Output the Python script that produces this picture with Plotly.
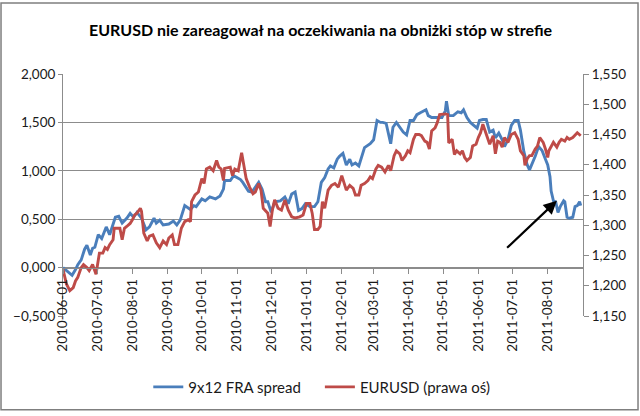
import plotly.graph_objects as go

title_text = "EURUSD nie zareagował na oczekiwania na obniżki stóp w strefie"
fra_name = "9x12 FRA spread"
eur_name = "EURUSD (prawa oś)"

fra_dates = [
    "2010-06-01","2010-06-09","2010-06-12","2010-06-14","2010-06-17","2010-06-20","2010-06-22","2010-06-25",
    "2010-06-27","2010-06-29","2010-07-02","2010-07-05","2010-07-09","2010-07-12","2010-07-17","2010-07-20",
    "2010-07-23","2010-07-27","2010-07-30","2010-08-02","2010-08-05","2010-08-09","2010-08-13","2010-08-16",
    "2010-08-20","2010-08-22","2010-08-25","2010-08-28","2010-09-02","2010-09-06","2010-09-09","2010-09-12",
    "2010-09-16","2010-09-21","2010-09-24","2010-09-26","2010-10-01","2010-10-04","2010-10-08","2010-10-13",
    "2010-10-17","2010-10-20","2010-10-21","2010-10-26","2010-10-29","2010-11-01","2010-11-04","2010-11-06",
    "2010-11-11","2010-11-14","2010-11-17","2010-11-20","2010-11-23","2010-11-26","2010-11-28","2010-12-01",
    "2010-12-04","2010-12-09","2010-12-13","2010-12-16","2010-12-19","2010-12-22","2010-12-25","2010-12-28",
    "2010-12-31","2011-01-04","2011-01-08","2011-01-11","2011-01-14","2011-01-17","2011-01-20","2011-01-22",
    "2011-01-25","2011-01-28","2011-01-30","2011-02-02","2011-02-05","2011-02-08","2011-02-10","2011-02-13",
    "2011-02-16","2011-02-19","2011-02-21","2011-02-26","2011-03-01","2011-03-04","2011-03-07","2011-03-09",
    "2011-03-12","2011-03-16","2011-03-18","2011-03-21","2011-03-24","2011-03-27","2011-03-30","2011-04-02",
    "2011-04-05","2011-04-08","2011-04-11","2011-04-14","2011-04-16","2011-04-18","2011-04-21","2011-04-25",
    "2011-04-30","2011-05-03","2011-05-04","2011-05-06","2011-05-10","2011-05-11","2011-05-14","2011-05-17",
    "2011-05-19","2011-05-22","2011-05-25","2011-05-28","2011-05-31","2011-06-02","2011-06-05","2011-06-08",
    "2011-06-11","2011-06-14","2011-06-16","2011-06-19","2011-06-22","2011-06-24","2011-06-27","2011-06-30",
    "2011-07-03","2011-07-06","2011-07-08","2011-07-11","2011-07-14","2011-07-16","2011-07-18","2011-07-21",
    "2011-07-24","2011-07-27","2011-07-30","2011-08-01","2011-08-03","2011-08-04","2011-08-06","2011-08-08",
    "2011-08-10","2011-08-12","2011-08-15","2011-08-16","2011-08-18","2011-08-20","2011-08-23","2011-08-25",
    "2011-08-27","2011-08-29","2011-08-30",
]
fra_values = [
    0.00,-0.08,-0.02,0.03,0.08,0.19,0.23,0.13,
    0.20,0.21,0.34,0.30,0.42,0.34,0.52,0.53,
    0.46,0.51,0.56,0.52,0.57,0.51,0.39,0.42,
    0.51,0.46,0.49,0.44,0.45,0.48,0.44,0.49,
    0.64,0.60,0.64,0.63,0.71,0.69,0.73,0.71,
    0.74,0.81,0.90,0.90,0.95,0.93,0.91,0.88,
    0.79,0.78,0.83,0.88,0.81,0.68,0.68,0.57,
    0.68,0.69,0.73,0.66,0.76,0.78,0.59,0.61,
    0.66,0.63,0.63,0.68,0.88,0.93,1.02,1.05,
    1.03,1.12,1.15,1.18,1.06,1.12,1.06,1.08,
    1.05,1.18,1.24,1.28,1.32,1.52,1.50,1.50,
    1.49,1.28,1.45,1.50,1.45,1.40,1.37,1.52,
    1.52,1.58,1.60,1.62,1.63,1.57,1.55,1.55,
    1.55,1.62,1.72,1.57,1.57,1.58,1.61,1.60,
    1.63,1.55,1.50,1.47,1.44,1.52,1.53,1.53,
    1.40,1.42,1.34,1.39,1.32,1.25,1.32,1.47,
    1.52,1.52,1.42,1.20,1.06,1.01,1.06,1.15,
    1.25,1.21,1.12,1.06,0.94,0.79,0.69,0.68,
    0.57,0.63,0.69,0.68,0.52,0.51,0.52,0.63,
    0.64,0.68,0.64,
]

eur_dates = [
    "2010-06-01","2010-06-04","2010-06-07","2010-06-10","2010-06-12","2010-06-14","2010-06-17","2010-06-19",
    "2010-06-22","2010-06-24","2010-06-27","2010-06-30","2010-07-03","2010-07-06","2010-07-08","2010-07-10",
    "2010-07-12","2010-07-15","2010-07-16","2010-07-18","2010-07-21","2010-07-23","2010-07-25","2010-07-27",
    "2010-07-30","2010-08-01","2010-08-03","2010-08-05","2010-08-08","2010-08-09","2010-08-11","2010-08-14",
    "2010-08-16","2010-08-19","2010-08-22","2010-08-25","2010-08-28","2010-08-31","2010-09-02","2010-09-05",
    "2010-09-07","2010-09-10","2010-09-13","2010-09-16","2010-09-19","2010-09-21","2010-09-22","2010-09-25",
    "2010-09-28","2010-10-01","2010-10-03","2010-10-05","2010-10-08","2010-10-11","2010-10-14","2010-10-16",
    "2010-10-18","2010-10-20","2010-10-21","2010-10-26","2010-10-28","2010-10-30","2010-11-02","2010-11-05",
    "2010-11-07","2010-11-09","2010-11-12","2010-11-15","2010-11-17","2010-11-20","2010-11-22","2010-11-24",
    "2010-11-28","2010-11-30","2010-12-02","2010-12-04","2010-12-07","2010-12-10","2010-12-13","2010-12-16",
    "2010-12-19","2010-12-22","2010-12-26","2010-12-29","2011-01-01","2011-01-04","2011-01-06","2011-01-08",
    "2011-01-11","2011-01-13","2011-01-15","2011-01-17","2011-01-20","2011-01-23","2011-01-26","2011-01-29",
    "2011-02-01","2011-02-03","2011-02-05","2011-02-08","2011-02-11","2011-02-13","2011-02-16","2011-02-18",
    "2011-02-21","2011-02-24","2011-02-26","2011-02-28","2011-03-03","2011-03-05","2011-03-08","2011-03-11",
    "2011-03-14","2011-03-16","2011-03-19","2011-03-21","2011-03-24","2011-03-26","2011-03-29","2011-03-31",
    "2011-04-02","2011-04-05","2011-04-07","2011-04-10","2011-04-12","2011-04-15","2011-04-17","2011-04-19",
    "2011-04-21","2011-04-24","2011-04-26","2011-04-28","2011-05-03","2011-05-05","2011-05-06","2011-05-09",
    "2011-05-11","2011-05-13","2011-05-16","2011-05-18","2011-05-20","2011-05-22","2011-05-25","2011-05-27",
    "2011-05-30","2011-06-01","2011-06-03","2011-06-05","2011-06-07","2011-06-09","2011-06-11","2011-06-14",
    "2011-06-16","2011-06-18","2011-06-20","2011-06-22","2011-06-24","2011-06-27","2011-06-30","2011-07-03",
    "2011-07-06","2011-07-08","2011-07-11","2011-07-12","2011-07-14","2011-07-16","2011-07-18","2011-07-21",
    "2011-07-23","2011-07-25","2011-07-28","2011-07-30","2011-08-01","2011-08-02","2011-08-04","2011-08-06",
    "2011-08-09","2011-08-11","2011-08-13","2011-08-16","2011-08-18","2011-08-20","2011-08-23","2011-08-25",
    "2011-08-27","2011-08-30",
]
eur_values = [
    1.227,1.203,1.192,1.197,1.208,1.214,1.230,1.235,
    1.230,1.225,1.235,1.219,1.254,1.254,1.263,1.260,
    1.268,1.276,1.295,1.295,1.295,1.276,1.295,1.298,
    1.303,1.309,1.317,1.320,1.328,1.323,1.287,1.274,
    1.282,1.284,1.271,1.263,1.274,1.268,1.279,1.284,
    1.268,1.268,1.295,1.306,1.309,1.306,1.339,1.350,
    1.355,1.377,1.369,1.393,1.396,1.390,1.407,1.396,
    1.393,1.374,1.394,1.396,1.382,1.393,1.390,1.420,
    1.401,1.377,1.363,1.352,1.355,1.369,1.358,1.328,
    1.320,1.298,1.325,1.342,1.328,1.325,1.342,1.325,
    1.314,1.312,1.314,1.317,1.336,1.336,1.320,1.293,
    1.293,1.298,1.339,1.328,1.358,1.366,1.369,1.363,
    1.382,1.369,1.358,1.366,1.361,1.350,1.350,1.366,
    1.369,1.374,1.380,1.377,1.393,1.399,1.396,1.388,
    1.399,1.390,1.415,1.423,1.418,1.407,1.415,1.423,
    1.420,1.442,1.450,1.450,1.448,1.439,1.437,1.426,
    1.456,1.461,1.470,1.483,1.484,1.483,1.436,1.442,
    1.417,1.423,1.418,1.423,1.412,1.407,1.412,1.431,
    1.434,1.445,1.453,1.467,1.456,1.442,1.434,1.448,
    1.418,1.439,1.437,1.429,1.445,1.437,1.450,1.453,
    1.442,1.423,1.415,1.399,1.410,1.415,1.415,1.426,
    1.431,1.445,1.437,1.426,1.412,1.423,1.429,1.437,
    1.429,1.437,1.442,1.439,1.445,1.442,1.445,1.450,
    1.453,1.448,
]

x_ticks = ["2010-06-01","2010-07-01","2010-08-01","2010-09-01","2010-10-01","2010-11-01",
           "2010-12-01","2011-01-01","2011-02-01","2011-03-01","2011-04-01","2011-05-01",
           "2011-06-01","2011-07-01","2011-08-01"]

FONT = "Lato, 'Open Sans', sans-serif"
GRID = "#8c8c8c"
TXT = "#1a1a1a"

fig = go.Figure()
fig.add_trace(go.Scatter(x=fra_dates, y=fra_values, name=fra_name, mode="lines",
                         line=dict(color="#4a7ebb", width=2.9), yaxis="y", legend="legend"))
fig.add_trace(go.Scatter(x=eur_dates, y=eur_values, name=eur_name, mode="lines",
                         line=dict(color="#be4b48", width=2.9), yaxis="y2", legend="legend2"))

legend_common = dict(orientation="h", xanchor="left", y=-0.294, yanchor="middle",
                     font=dict(family=FONT, size=15, color=TXT), itemwidth=30,
                     bgcolor="rgba(0,0,0,0)")

fig.update_layout(
    width=640, height=416,
    margin=dict(l=63, r=57, t=74, b=97),
    paper_bgcolor="white", plot_bgcolor="white",
    separators=", ",
    font=dict(family=FONT, size=13, color=TXT),
    showlegend=True,
    legend=dict(x=0.164, **legend_common),
    legend2=dict(x=0.494, **legend_common),
    xaxis=dict(type="date", range=["2010-06-01", "2011-09-01"], tickvals=x_ticks,
               tickformat="%Y-%m-%d", tickangle=-90, anchor="free", position=0.2,
               showgrid=False, showline=True, linecolor=GRID, linewidth=1,
               ticks="outside", ticklen=5, tickcolor=GRID, zeroline=False,
               tickfont=dict(family=FONT, size=13.5, color=TXT)),
    yaxis=dict(range=[-0.5, 2.0], tickvals=[-0.5, 0, 0.5, 1.0, 1.5, 2.0], tickformat=".3f",
               showgrid=True, gridcolor=GRID, gridwidth=1, zeroline=False,
               showline=True, linecolor=GRID, ticks="outside", ticklen=4, tickcolor=GRID,
               tickfont=dict(family=FONT, size=13.5, color=TXT)),
    yaxis2=dict(range=[1.15, 1.55], dtick=0.05, tick0=1.15, tickformat=".3f",
                overlaying="y", side="right", showgrid=False, zeroline=False,
                showline=True, linecolor=GRID, ticks="outside", ticklen=5, tickcolor=GRID,
                tickfont=dict(family=FONT, size=13.5, color=TXT)),
)

fig.add_annotation(text="<b>" + title_text + "</b>", xref="paper", yref="paper",
                   x=0.496, y=1.184, xanchor="center", yanchor="middle", showarrow=False,
                   font=dict(family=FONT, size=16, color="#000000"))

fig.add_annotation(x="2011-08-09", y=0.69, ax="2011-06-25", ay=0.19,
                   xref="x", yref="y", axref="x", ayref="y", text="",
                   showarrow=True, arrowhead=2, arrowsize=1.2, arrowwidth=2.2,
                   arrowcolor="#000000")

fig.add_shape(type="rect", xref="paper", yref="paper",
              x0=-0.1192, x1=1.1058, y0=-0.3878, y1=1.2939,
              line=dict(color="#7f7f7f", width=1.5), fillcolor="rgba(0,0,0,0)", layer="below")

fig.write_html("out.html", config={"displayModeBar": False},
               post_script="document.body.style.margin='0';document.body.style.padding='0';")
